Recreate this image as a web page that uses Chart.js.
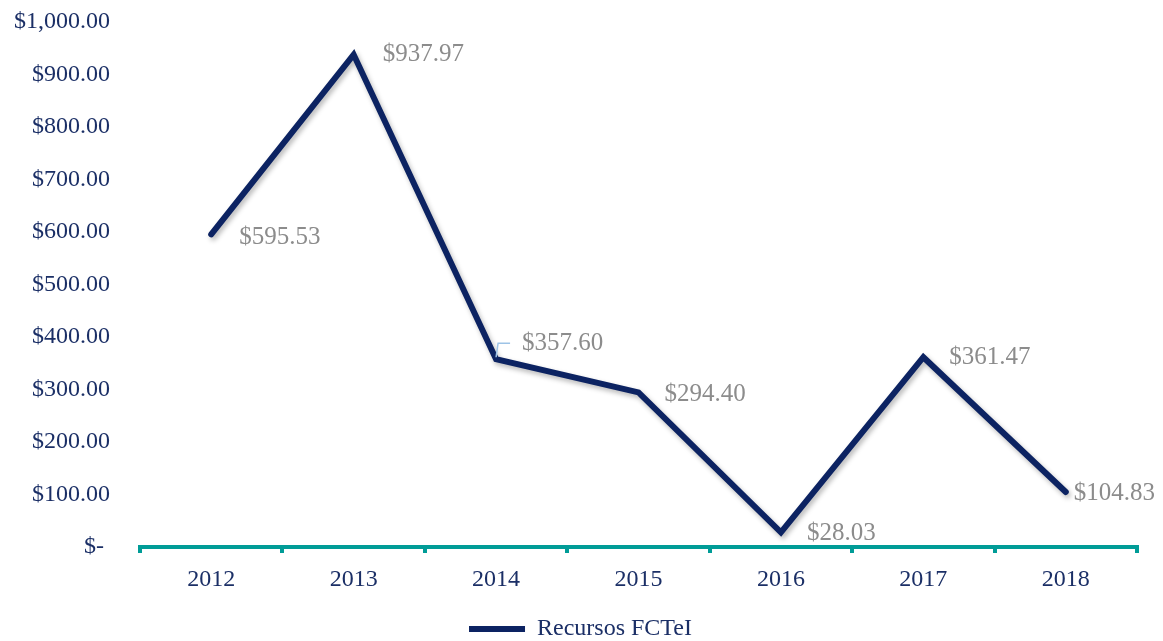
<!DOCTYPE html>
<html>
<head>
<meta charset="utf-8">
<script src="https://cdn.jsdelivr.net/npm/chart.js@4.4.1/dist/chart.umd.min.js"></script>
<style>
    html, body { margin: 0; padding: 0; background: #fff; }
    #wrap { width: 1163px; height: 641px; }
</style>
</head>
<body>
<div id="wrap"><canvas id="lineChart" width="1163" height="641"></canvas></div>
<script>
let years = ["2012", "2013", "2014", "2015", "2016", "2017", "2018"];
let recursos = [595.53, 937.97, 357.60, 294.40, 28.03, 361.47, 104.83];
let yTicks = [0, 100, 200, 300, 400, 500, 600, 700, 800, 900, 1000];

let navy = "#0c2362";
let labelNavy = "#1b2f66";
let teal = "#009c97";
let gray = "#8c8c8c";
let font = "'Liberation Serif', 'DejaVu Serif', serif";

function money(v) {
    if (v === 0) return "$- ";
    return "$" + v.toLocaleString("en-US", { minimumFractionDigits: 2, maximumFractionDigits: 2 });
}

// label offsets from each point (dx, dy), like Excel placed them
let labelShift = [[28, 3], [29, 0], [26, -16], [26, 2], [26, 1], [26, 0], [8, 1]];

let shadowPlugin = {
    id: "lineShadow",
    beforeDatasetsDraw(chart) {
        let ctx = chart.ctx;
        ctx.save();
        ctx.shadowColor = "rgba(0,0,0,0.28)";
        ctx.shadowBlur = 5;
        ctx.shadowOffsetX = 2;
        ctx.shadowOffsetY = 3;
    },
    afterDatasetsDraw(chart) {
        chart.ctx.restore();
    }
};

// nudge the legend a bit to the right, under the plot centre
let legendShift = {
    id: "legendShift",
    afterLayout(chart) {
        chart.legend.left += 12;
        chart.legend.right += 12;
    }
};

let labelPlugin = {
    id: "valueLabels",
    afterDatasetsDraw(chart) {
        let ctx = chart.ctx;
        let meta = chart.getDatasetMeta(0);
        ctx.save();
        ctx.font = "25px " + font;
        ctx.fillStyle = gray;
        ctx.textAlign = "left";
        ctx.textBaseline = "middle";
        meta.data.forEach((pt, i) => {
            let s = labelShift[i];
            let x = pt.x + s[0];
            let y = pt.y + s[1];
            if (s[1] < -8) {
                // small leader line
                ctx.strokeStyle = "#9dc3e6";
                ctx.lineWidth = 1.5;
                ctx.beginPath();
                ctx.moveTo(pt.x, pt.y - 2);
                ctx.lineTo(pt.x + 2, y);
                ctx.lineTo(pt.x + 14, y);
                ctx.stroke();
            }
            ctx.fillText(money(recursos[i]), x, y);
        });
        ctx.restore();
    }
};

new Chart(document.getElementById("lineChart"), {
    type: "line",
    data: {
        labels: years,
        datasets: [{
            label: "Recursos FCTeI",
            data: recursos,
            borderColor: navy,
            backgroundColor: navy,
            borderWidth: 6,
            borderCapStyle: "round",
            borderJoinStyle: "miter",
            pointRadius: 0,
            pointHoverRadius: 0,
            pointStyle: "line",
            tension: 0
        }]
    },
    options: {
        responsive: false,
        animation: false,
        layout: { padding: { top: 22, right: 26, bottom: -10, left: 0 } },
        plugins: {
            tooltip: { enabled: false },
            legend: {
                position: "bottom",
                labels: {
                    usePointStyle: true,
                    pointStyleWidth: 56,
                    boxHeight: 6,
                    color: labelNavy,
                    padding: 8,
                    font: { family: font, size: 24 }
                }
            }
        },
        scales: {
            x: {
                offset: true,
                afterFit(scale) {
                    scale.height = 62;
                },
                grid: {
                    display: true,
                    offset: true,
                    drawOnChartArea: false,
                    drawTicks: true,
                    tickLength: 6,
                    color: teal,
                    lineWidth: 4
                },
                border: { display: true, color: teal, width: 4 },
                ticks: {
                    color: labelNavy,
                    padding: 12,
                    font: { family: font, size: 24 }
                }
            },
            y: {
                min: 0,
                max: 1000,
                afterBuildTicks(scale) {
                    scale.ticks = yTicks.map(v => ({ value: v }));
                },
                afterFit(scale) {
                    scale.width = 140;
                    scale.paddingTop = 0;
                    scale.paddingBottom = 0;
                },
                grid: { display: false, drawTicks: false },
                border: { display: false },
                ticks: {
                    color: labelNavy,
                    padding: 30,
                    font: { family: font, size: 24 },
                    callback: v => money(v)
                }
            }
        }
    },
    plugins: [shadowPlugin, labelPlugin, legendShift]
});
</script>
</body>
</html>
